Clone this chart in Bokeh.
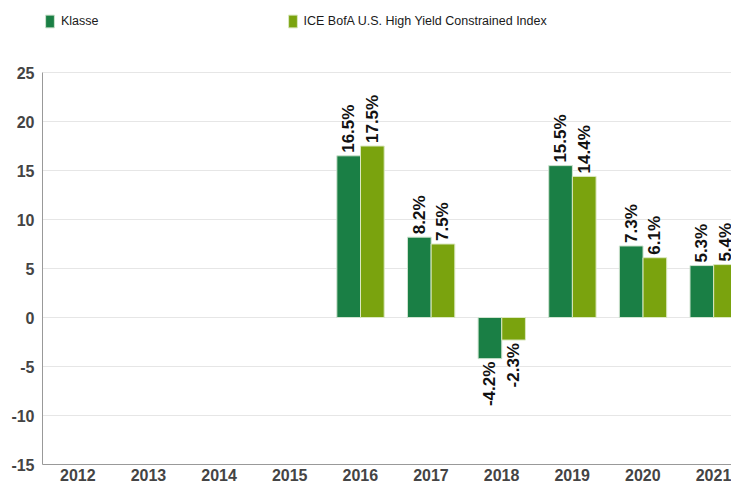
import math
from bokeh.plotting import figure
from bokeh.models import ColumnDataSource, Range1d, Legend, LegendItem, FixedTicker
from bokeh.transform import dodge
from bokeh.core.properties import value
from bokeh.embed import file_html
from bokeh.resources import INLINE

years = ["2012", "2013", "2014", "2015", "2016", "2017", "2018", "2019", "2020", "2021"]
klasse = [None, None, None, None, 16.5, 8.2, -4.2, 15.5, 7.3, 5.3]
index_vals = [None, None, None, None, 17.5, 7.5, -2.3, 14.4, 6.1, 5.4]
series_names = ["Klasse", "ICE BofA U.S. High Yield Constrained Index"]
y_ticks = [-15, -10, -5, 0, 5, 10, 15, 20, 25]
y_tick_labels = ["-15", "-10", "-5", "0", "5", "10", "15", "20", "25"]

C_K = "#1a7f45"
C_I = "#7aa30e"

xs = list(range(len(years)))
nan = float("nan")
src = ColumnDataSource(dict(
    x=xs,
    k=[v if v is not None else nan for v in klasse],
    i=[v if v is not None else nan for v in index_vals],
))

# frame spans the full height; the part above 25 holds the legend
p = figure(width=731, height=486, output_backend="svg", toolbar_location=None,
           x_range=Range1d(-0.5, 9.255), y_range=Range1d(-15, 32.35),
           min_border_left=42, min_border_right=0, min_border_top=0, min_border_bottom=22)
p.outline_line_color = None
p.background_fill_color = "white"

rk = p.vbar(x=dodge("x", -0.165, range=p.x_range), top="k", bottom=0, width=0.335, source=src,
            fill_color=C_K, line_color="#cfe3cf", line_width=1)
ri = p.vbar(x=dodge("x", 0.17, range=p.x_range), top="i", bottom=0, width=0.335, source=src,
            fill_color=C_I, line_color="#dbe8c0", line_width=1)

def label_sources(vals, off):
    pos = dict(x=[], y=[], t=[])
    neg = dict(x=[], y=[], t=[])
    for x, v in zip(xs, vals):
        if v is None:
            continue
        d = pos if v >= 0 else neg
        d["x"].append(x + off)
        d["y"].append(v)
        d["t"].append(f"{v:.1f}%")
    return ColumnDataSource(pos), ColumnDataSource(neg)

for vals, off in ((klasse, -0.165), (index_vals, 0.17)):
    ps, ns = label_sources(vals, off)
    p.text(x="x", y="y", text="t", source=ps, angle=math.pi / 2, text_align="left",
           text_baseline="middle", y_offset=-3, text_font=value("Liberation Sans"),
           text_font_style="bold", text_font_size="17px", text_color="#111111")
    p.text(x="x", y="y", text="t", source=ns, angle=math.pi / 2, text_align="right",
           text_baseline="middle", y_offset=3, text_font=value("Liberation Sans"),
           text_font_style="bold", text_font_size="17px", text_color="#111111")

p.xgrid.grid_line_color = None
p.ygrid.grid_line_color = "#e6e6e6"
p.ygrid.ticker = FixedTicker(ticks=y_ticks)

p.yaxis.ticker = FixedTicker(ticks=y_ticks)
p.yaxis.major_label_overrides = dict(zip(y_ticks, y_tick_labels))
p.yaxis.bounds = (-15, 25)
p.yaxis.axis_line_color = "#999999"
p.yaxis.major_tick_line_color = None
p.yaxis.minor_tick_line_color = None
p.yaxis.major_tick_out = 0
p.yaxis.major_tick_in = 0
p.yaxis.minor_tick_out = 0
p.yaxis.major_label_text_font = "Liberation Sans"
p.yaxis.major_label_text_font_style = "bold"
p.yaxis.major_label_text_font_size = "16px"
p.yaxis.major_label_text_color = "#444444"
p.yaxis.major_label_standoff = 8

p.xaxis.ticker = FixedTicker(ticks=xs)
p.xaxis.major_label_overrides = {i: y for i, y in enumerate(years)}
p.xaxis.axis_line_color = "#999999"
p.xaxis.major_tick_line_color = None
p.xaxis.minor_tick_line_color = None
p.xaxis.major_tick_out = 0
p.xaxis.major_tick_in = 0
p.xaxis.minor_tick_out = 0
p.xaxis.major_label_text_font = "Liberation Sans"
p.xaxis.major_label_text_font_style = "bold"
p.xaxis.major_label_text_font_size = "16px"
p.xaxis.major_label_text_color = "#444444"
p.xaxis.major_label_standoff = 4

legend = Legend(items=[LegendItem(label=series_names[0], renderers=[rk]),
                       LegendItem(label=series_names[1], renderers=[ri])],
                location=(2, 435), orientation="horizontal", padding=0, margin=0,
                spacing=188, glyph_width=11, glyph_height=16, label_standoff=6,
                label_text_font="Liberation Sans", label_text_font_size="12.5px",
                label_text_color="#1a1a1a", border_line_color=None,
                background_fill_alpha=0, label_height=16)
p.add_layout(legend, "center")

open("out.html", "w").write(file_html(p, INLINE))
